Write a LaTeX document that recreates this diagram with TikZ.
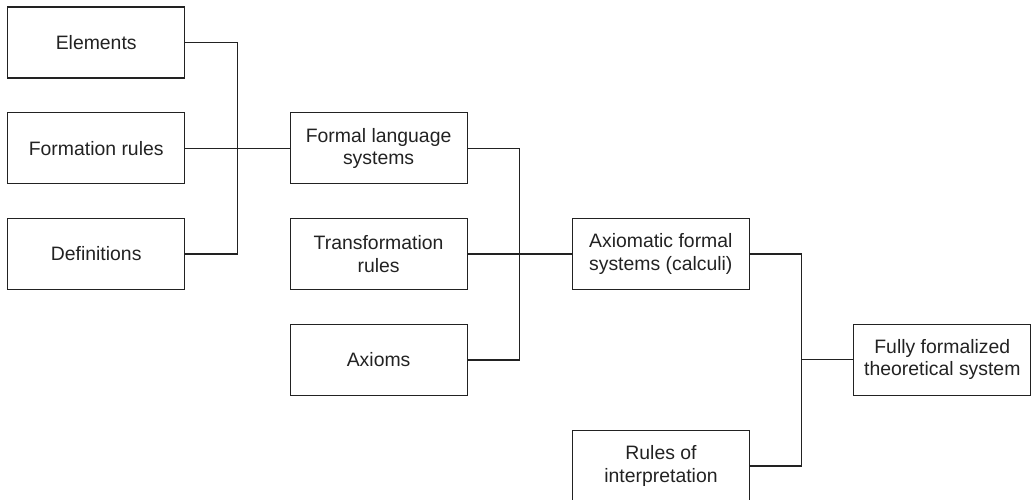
\documentclass[tikz,border=0pt]{standalone}
\usepackage{fontspec}
\setmainfont{Liberation Sans}
\definecolor{ink}{HTML}{222222}
\begin{document}
\begin{tikzpicture}[x=1pt,y=-1pt,
  box/.style={draw=ink, line width=1.2pt, minimum width=177pt, minimum height=71pt,
    inner sep=0pt, align=center, text=ink,
    font=\fontsize{19.4pt}{22.5pt}\selectfont},
  link/.style={draw=ink, line width=1.2pt}]
  \clip (0,0) rectangle (1031,499);
  \useasboundingbox (0,0) rectangle (1031,499);

  % first column: building blocks of a formal language
  \node[box] (el)  at (96.2,42.5)  {Elements};
  \node[box] (fr)  at (96.2,148.3) {Formation rules};
  \node[box] (df)  at (96.2,254)   {Definitions};

  % second column
  \node[box] (fls) at (378.6,148.3) {Formal language\\systems};
  \node[box] (tr)  at (378.6,254)   {Transformation\\rules};
  \node[box] (ax)  at (378.6,360)   {Axioms};

  % third column
  \node[box] (afs) at (660.8,254)   {Axiomatic formal\\systems (calculi)};
  \node[box] (ri)  at (661,466)     {Rules of\\interpretation};

  % result
  \node[box] (ffs) at (942.3,359.7) {Fully formalized\\theoretical system};

  % bus joints
  \coordinate (b1) at (237.5,148.3);
  \coordinate (b2) at (519.5,254);
  \coordinate (b3) at (801.5,359.7);

  % connectors
  \draw[link] (el.east) -| (b1) |- (df.east);
  \draw[link] (fr.east) -- (fls.west);

  \draw[link] (fls.east) -| (b2) |- (ax.east);
  \draw[link] (tr.east) -- (afs.west);

  \draw[link] (afs.east) -| (b3) |- (ri.east);
  \draw[link] (b3) -- (ffs.west);
\end{tikzpicture}
\end{document}
